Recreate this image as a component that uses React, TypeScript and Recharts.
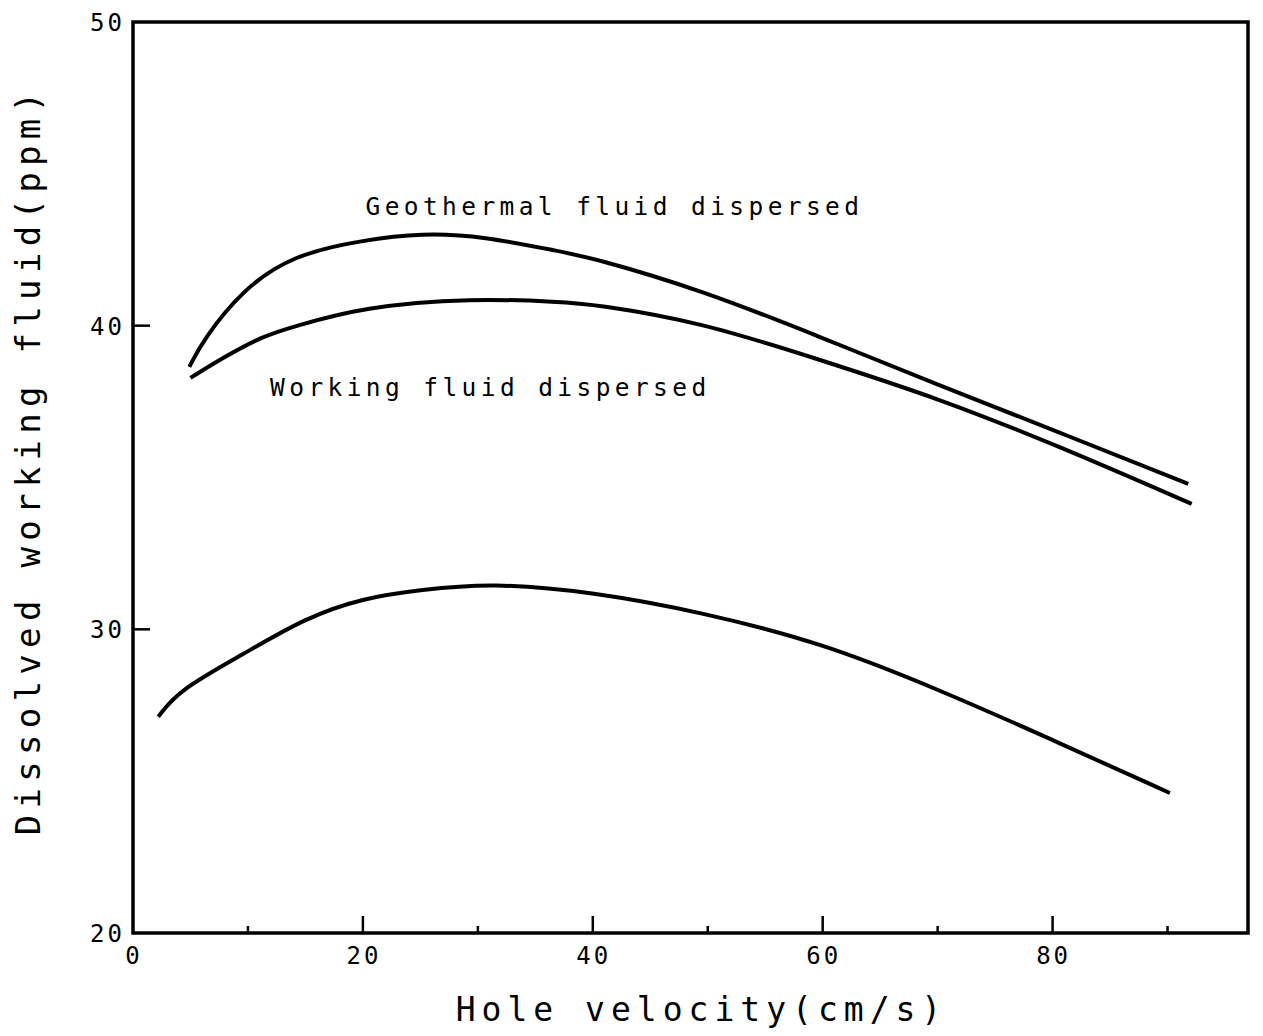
import React from 'react';
import { LineChart, Line, XAxis, YAxis, ReferenceArea, ReferenceDot, Label } from 'recharts';

// Hole velocity (cm/s) sample points and dissolved working fluid (ppm) per curve
const geoVelocity = [4.9, 6.1, 9.5, 13.9, 20, 25.2, 30.4, 37.3, 40, 49.4, 59.8, 70, 80.7, 91.8];
const geoDissolved = [38.64, 39.53, 41.18, 42.33, 42.82, 43.05, 42.95, 42.43, 42.23, 41.18, 39.63, 38.05, 36.47, 34.79];

const workVelocity = [5.0, 7.8, 11.3, 13.9, 20, 29.5, 37.3, 40, 49.4, 59.8, 70, 80.7, 92.1];
const workDissolved = [38.28, 38.94, 39.66, 39.96, 40.62, 40.91, 40.78, 40.71, 40.12, 38.87, 37.62, 36.01, 34.13];

const lowVelocity = [2.2, 4, 9.5, 15, 20, 25, 31.2, 40, 49.4, 60, 70.2, 80, 90.2];
const lowDissolved = [27.12, 28.0, 29.16, 30.38, 31.03, 31.3, 31.53, 31.23, 30.57, 29.55, 28.0, 26.36, 24.61];

const xTicks = [0, 10, 20, 30, 40, 50, 60, 70, 80, 90];
const xLabelTicks = [0, 20, 40, 60, 80];
const yTicks = [20, 30, 40, 50];

const xDomain: [number, number] = [0, 97];
const yDomain: [number, number] = [20, 50];

const geoLabel = { text: 'Geothermal fluid dispersed', x: 20.4, y: 43.9 };
const workLabel = { text: 'Working fluid dispersed', x: 12.1, y: 37.95 };

const toPoints = (xs: number[], ys: number[]) => xs.map((v, i) => ({ v, d: ys[i] }));

const geoData = toPoints(geoVelocity, geoDissolved);
const workData = toPoints(workVelocity, workDissolved);
const lowData = toPoints(lowVelocity, lowDissolved);

const FONT = '"DejaVu Sans Mono", monospace';
const TICK_MARGIN = 10;

const XTick = (props: any) => {
  const { x, y, payload } = props;
  const v = payload.value as number;
  const axisY = y - TICK_MARGIN;
  const major = v % 20 === 0;
  return (
    <g>
      {v > 0 && (
        <line x1={x} x2={x} y1={axisY} y2={axisY - (major ? 17 : 7)} stroke="#000" strokeWidth={2.5} />
      )}
      {xLabelTicks.includes(v) && (
        <text x={x + 1} y={axisY + 31} textAnchor="middle" fontFamily={FONT} fontSize={24} letterSpacing={3} fill="#000">
          {v}
        </text>
      )}
    </g>
  );
};

const YTick = (props: any) => {
  const { x, y, payload } = props;
  const v = payload.value as number;
  const axisX = x + TICK_MARGIN;
  const inner = v > yDomain[0] && v < yDomain[1];
  return (
    <g>
      {inner && <line x1={axisX} x2={axisX + 17} y1={y} y2={y} stroke="#000" strokeWidth={2.5} />}
      <text x={axisX - 8} y={y + 9} textAnchor="end" fontFamily={FONT} fontSize={24} letterSpacing={3} fill="#000">
        {v}
      </text>
    </g>
  );
};

const noteContent = (text: string) => (props: any) => {
  const vb = props.viewBox || {};
  const cx = (vb.x ?? 0) + (vb.width ?? 0) / 2;
  const cy = (vb.y ?? 0) + (vb.height ?? 0) / 2;
  return (
    <text x={cx - 2} y={cy + 8} textAnchor="start" fontFamily={FONT} fontSize={24.5} letterSpacing={4.4} fill="#000">
      {text}
    </text>
  );
};

export default function App() {
  return (
    <div style={{ position: 'absolute', left: 0, top: 0, width: 1263, height: 1036, background: '#fff' }}>
      <LineChart
        width={1263}
        height={1036}
        margin={{ top: 22, right: 15, bottom: 102, left: 132 }}
      >
        <XAxis
          type="number"
          dataKey="v"
          domain={xDomain}
          ticks={xTicks}
          allowDataOverflow
          height={1}
          tickSize={0}
          tickMargin={TICK_MARGIN}
          axisLine={false}
          tickLine={false}
          tick={<XTick />}
          interval={0}
        >
          <Label
            content={(p: any) => {
              const vb = p.viewBox || {};
              return (
                <text
                  x={vb.x + vb.width / 2 + 11}
                  y={vb.y + 88}
                  textAnchor="middle"
                  fontFamily={FONT}
                  fontSize={33}
                  letterSpacing={6}
                  fill="#000"
                >
                  Hole velocity(cm/s)
                </text>
              );
            }}
          />
        </XAxis>
        <YAxis
          type="number"
          domain={yDomain}
          ticks={yTicks}
          allowDataOverflow
          width={1}
          tickSize={0}
          tickMargin={TICK_MARGIN}
          axisLine={false}
          tickLine={false}
          tick={<YTick />}
          interval={0}
        >
          <Label
            content={(p: any) => {
              const vb = p.viewBox || {};
              const cx = 28;
              const cy = vb.y + vb.height / 2 - 17;
              return (
                <text
                  x={cx}
                  y={cy}
                  transform={`rotate(-90, ${cx}, ${cy})`}
                  textAnchor="middle"
                  dominantBaseline="central"
                  fontFamily={FONT}
                  fontSize={34}
                  letterSpacing={6.3}
                  fill="#000"
                >
                  Dissolved working fluid(ppm)
                </text>
              );
            }}
          />
        </YAxis>
        <ReferenceArea
          x1={xDomain[0]}
          x2={xDomain[1]}
          y1={yDomain[0]}
          y2={yDomain[1]}
          fill="none"
          stroke="#000"
          strokeWidth={3.5}
          fillOpacity={0}
        />
        <Line
          data={geoData}
          dataKey="d"
          type="basis"
          stroke="#000"
          strokeWidth={4}
          dot={false}
          isAnimationActive={false}
        />
        <Line
          data={workData}
          dataKey="d"
          type="basis"
          stroke="#000"
          strokeWidth={4}
          dot={false}
          isAnimationActive={false}
        />
        <Line
          data={lowData}
          dataKey="d"
          type="basis"
          stroke="#000"
          strokeWidth={4}
          dot={false}
          isAnimationActive={false}
        />
        <ReferenceDot x={geoLabel.x} y={geoLabel.y} r={1} fill="none" stroke="none">
          <Label content={noteContent(geoLabel.text)} />
        </ReferenceDot>
        <ReferenceDot x={workLabel.x} y={workLabel.y} r={1} fill="none" stroke="none">
          <Label content={noteContent(workLabel.text)} />
        </ReferenceDot>
      </LineChart>
    </div>
  );
}
